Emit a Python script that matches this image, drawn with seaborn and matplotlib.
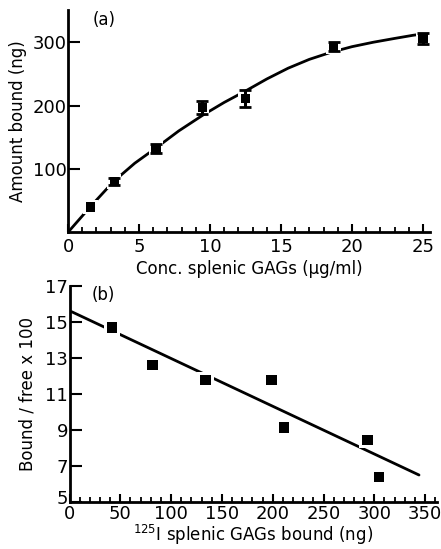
import matplotlib
matplotlib.use("Agg")
import matplotlib.pyplot as plt
import matplotlib.transforms as mtransforms
import seaborn as sns
import numpy as np
from matplotlib.ticker import MultipleLocator

# ---- Panel (a) data ----
conc = [1.6, 3.25, 6.2, 9.45, 12.5, 18.7, 25.0]
amount = [40, 80, 132, 197, 211, 293, 306]
amount_err = [0, 5, 7, 10, 14, 7.5, 9]

curve_x = [0, 1.6, 3.2, 4.7, 6.25, 7.8, 9.5, 11.0, 12.5, 14.0, 15.5, 17.0, 18.5, 20.0, 21.5, 23.0, 24.3, 25.3]
curve_y = [0, 41, 80, 109, 134, 160, 185, 205, 223, 242, 259, 273, 284, 293, 300, 306, 311, 314]

# ---- Panel (b) data ----
bound = [41.8, 81.5, 133.7, 199, 211, 293.5, 304.6]
bound_free = [14.7, 12.6, 11.78, 11.78, 9.13, 8.43, 6.4]
fit_x = [2.2, 344]
fit_y = [15.57, 6.5]

sns.set_theme(style="ticks")
plt.rcParams['font.family'] = ['DejaVu Sans']
plt.rcParams['text.color'] = 'black'
plt.rcParams['axes.labelcolor'] = 'black'
plt.rcParams['xtick.color'] = 'black'
plt.rcParams['ytick.color'] = 'black'

fig = plt.figure(figsize=(4.41, 5.49), dpi=100)
ax1 = fig.add_axes([0.1542, 0.5769, 0.821, 0.405])
ax2 = fig.add_axes([0.1576, 0.0856, 0.8333, 0.3934])

halo_s = 110
mark_s = 44

# Panel a
sns.lineplot(x=curve_x, y=curve_y, ax=ax1, color='black', lw=2.0, sort=False, estimator=None, zorder=1)
sns.scatterplot(x=conc, y=amount, ax=ax1, marker='s', s=halo_s, color='white', edgecolor='none', zorder=2)
sns.scatterplot(x=conc, y=amount, ax=ax1, marker='s', s=mark_s, color='black', edgecolor='none', zorder=3)
ex = [c for c, e in zip(conc, amount_err) if e > 0]
ey = [a for a, e in zip(amount, amount_err) if e > 0]
ee = [e for e in amount_err if e > 0]
ax1.errorbar(ex, ey, yerr=ee, fmt='none', ecolor='black', elinewidth=2.2, capsize=4.5, capthick=2.0, zorder=4)

ax1.set_xlim(0, 25.5)
ax1.set_ylim(0, 351)
ax1.xaxis.set_major_locator(MultipleLocator(5))
ax1.xaxis.set_minor_locator(MultipleLocator(1))
ax1.set_yticks([100, 200, 300])
ax1.set_xlabel("Conc. splenic GAGs (\u03bcg/ml)", fontsize=12, labelpad=3)
ax1.set_ylabel("Amount bound (ng)", fontsize=12, labelpad=4)
ax1.text(1.76, 335, "(a)", fontsize=12, ha='left', va='center')

# Panel b
sns.lineplot(x=fit_x, y=fit_y, ax=ax2, color='black', lw=2.0, sort=False, estimator=None, zorder=1)
sns.scatterplot(x=bound, y=bound_free, ax=ax2, marker='s', s=halo_s + 30, color='white', edgecolor='none', zorder=2)
sns.scatterplot(x=bound, y=bound_free, ax=ax2, marker='s', s=mark_s + 12, color='black', edgecolor='none', zorder=3)

ax2.set_xlim(0, 361.7)
ax2.set_ylim(5, 17)
ax2.xaxis.set_major_locator(MultipleLocator(50))
ax2.xaxis.set_minor_locator(MultipleLocator(10))
ax2.set_yticks([5, 7, 9, 11, 13, 15, 17])
ax2.set_xlabel(r"$^{125}$I splenic GAGs bound (ng)", fontsize=12, labelpad=0)
ax2.set_ylabel("Bound / free x 100", fontsize=12, labelpad=6)
ax2.text(21.8, 16.5, "(b)", fontsize=12, ha='left', va='center')

for ax in (ax1, ax2):
    for s in ('top', 'right'):
        ax.spines[s].set_visible(False)
    for s in ('left', 'bottom'):
        ax.spines[s].set_linewidth(2.0)
        ax.spines[s].set_color('black')
    ax.tick_params(axis='x', which='major', direction='in', length=6, width=1.5, labelsize=13, pad=4, colors='black')
    ax.tick_params(axis='x', which='minor', direction='in', length=3.8, width=1.3, colors='black')
    ax.tick_params(axis='y', which='major', direction='in', length=8.5, width=1.5, labelsize=13, pad=1, colors='black')
    ax.set_facecolor('white')
    ax.grid(False)

ax2.tick_params(axis='x', which='major', pad=2)
# lift the bottom-left "5" a little so it does not collide with "0"
shift = mtransforms.ScaledTranslation(0, 5 / 100, fig.dpi_scale_trans)
for lab in ax2.get_yticklabels():
    if lab.get_text() == '5':
        lab.set_transform(lab.get_transform() + shift)

fig.savefig("out.png", dpi=100, facecolor='white')
